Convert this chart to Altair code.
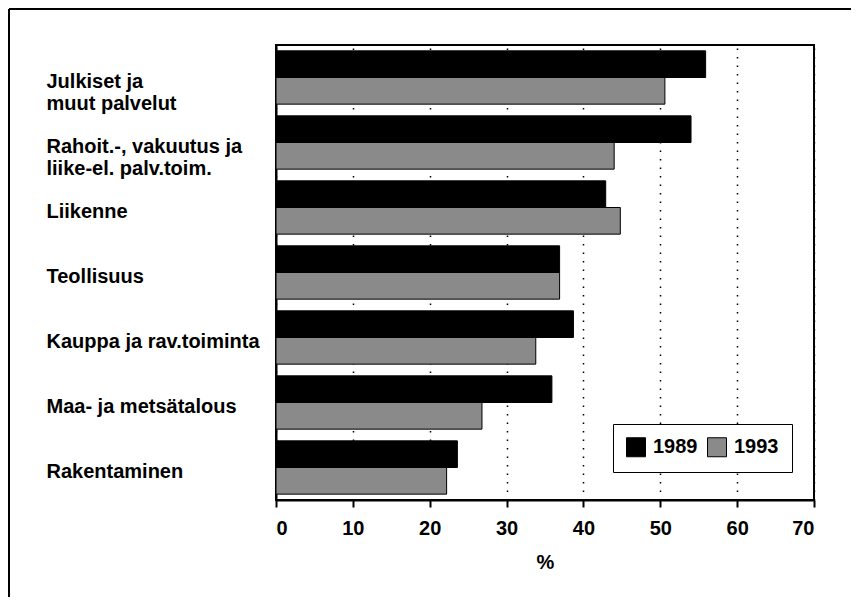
import altair as alt
import pandas as pd

categories = [
    "Julkiset ja|muut palvelut",
    "Rahoit.-, vakuutus ja|liike-el. palv.toim.",
    "Liikenne",
    "Teollisuus",
    "Kauppa ja rav.toiminta",
    "Maa- ja metsätalous",
    "Rakentaminen",
]
years = ["1989", "1993"]
values_1989 = [55.9, 54.0, 42.9, 36.9, 38.7, 35.9, 23.6]
values_1993 = [50.6, 44.0, 44.8, 36.9, 33.8, 26.8, 22.2]
x_ticks = [0, 10, 20, 30, 40, 50, 60, 70]
axis_title = "%"

rows = []
for c, a, b in zip(categories, values_1989, values_1993):
    rows.append({"cat": c, "year": years[0], "value": a})
    rows.append({"cat": c, "year": years[1], "value": b})
df = pd.DataFrame(rows)

FONT = "Liberation Sans"

bars = alt.Chart(df).mark_bar(stroke="black", strokeWidth=1, clip=False).encode(
    x=alt.X(
        "value:Q",
        scale=alt.Scale(domain=[0, 70], nice=False),
        axis=alt.Axis(
            values=x_ticks,
            title=axis_title,
            grid=True,
            gridColor="black",
            gridDash=[1.5, 7],
            gridWidth=1.5,
            gridOpacity=1,
            domainColor="black",
            domainWidth=2,
            tickColor="black",
            tickWidth=2,
            tickSize=7,
            labelPadding=11,
            labelFont=FONT,
            labelFontSize=20,
            labelFontWeight="bold",
            labelColor="black",
            titleFont=FONT,
            titleFontSize=20,
            titleFontWeight="bold",
            titleColor="black",
            titlePadding=14,
        ),
    ),
    y=alt.Y(
        "cat:N",
        sort=categories,
        scale=alt.Scale(paddingInner=0.18, paddingOuter=0.09),
        axis=alt.Axis(
            title=None,
            ticks=False,
            tickSize=0,
            grid=False,
            domainColor="black",
            domainWidth=2,
            labelAlign="left",
            labelBaseline="middle",
            labelPadding=230,
            labelOffset=4,
            labelExpr="split(datum.label, '|')",
            labelLineHeight=22,
            labelFont=FONT,
            labelFontSize=20,
            labelFontWeight="bold",
            labelColor="black",
            labelLimit=400,
        ),
    ),
    yOffset=alt.YOffset("year:N", sort=years, scale=alt.Scale(paddingInner=0, paddingOuter=0)),
    fill=alt.Color(
        "year:N",
        scale=alt.Scale(domain=years, range=["black", "#8a8a8a"]),
        legend=alt.Legend(
            title=None,
            orient="none",
            direction="horizontal",
            legendX=337,
            legendY=379,
            symbolType="square",
            symbolSize=361,
            symbolStrokeColor="black",
            symbolStrokeWidth=1,
            symbolOpacity=1,
            labelFont=FONT,
            labelFontSize=20,
            labelFontWeight="bold",
            labelColor="black",
            labelOffset=7,
            columnPadding=7,
            padding=13,
            strokeColor="black",
            fillColor="white",
        ),
    ),
)

frame_src = pd.DataFrame({"k": [0]})
left_line = alt.Chart(frame_src).mark_rule(color="black", strokeWidth=2, clip=False).encode(
    x=alt.value(-267), y=alt.value(-36), y2=alt.value(552)
)
top_line = alt.Chart(frame_src).mark_rule(color="black", strokeWidth=2, clip=False).encode(
    x=alt.value(-267), x2=alt.value(575), y=alt.value(-36)
)

chart = alt.layer(bars, left_line, top_line).properties(
    width=538,
    height=455,
    padding={"left": 268, "top": 37, "right": 37, "bottom": 97},
    autosize=alt.AutoSizeParams(type="none"),
    background="white",
).configure_view(stroke="black", strokeWidth=2)

chart.save("out.html", embed_options={"renderer": "svg", "actions": False})
